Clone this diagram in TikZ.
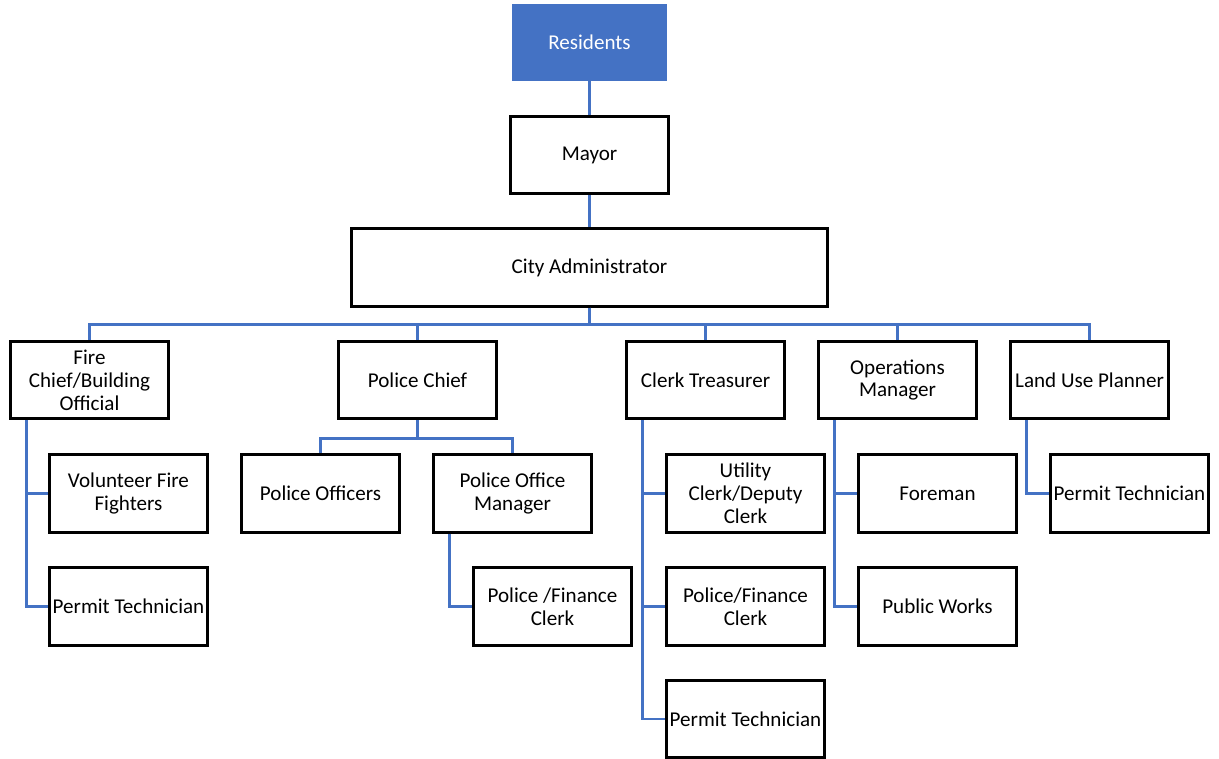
\documentclass[tikz,border=0pt]{standalone}
\usepackage{fontspec}
\setmainfont{Carlito}
\usetikzlibrary{positioning}
\usetikzlibrary{calc}
\definecolor{chartblue}{HTML}{4472C4}
\tikzstyle{post}=[rectangle,draw=black,line width=1.6pt,fill=white,minimum width=3.15cm,minimum height=1.55cm,inner sep=0pt,align=center,font=\fontsize{12}{13}\selectfont]
\tikzstyle{toppost}=[rectangle,fill=chartblue,text=white,minimum width=3.1cm,minimum height=1.54cm,inner sep=0pt,font=\fontsize{12}{13}\selectfont]
\tikzstyle{link} = [draw=chartblue,line width=1.5pt]

\begin{document}
\begin{tikzpicture}[x=0.02cm,y=-0.02cm]
    \useasboundingbox (0,0) rectangle (1219,759);
    % Top of the chart
    \node[toppost] (res) at (589.5,42.5) {Residents};
    \node[post] (mayor) at (589.5,155) {Mayor};
    \node[post, minimum width=9.53cm] (admin) at (589.5,267.5) {City Administrator};

    % Department heads
    \foreach \pos/\name/\label in {{(89.5,380)/fire/{Fire\\Chief/Building\\Official}}, {(417.5,380)/police/{Police Chief}},
        {(705.5,380)/clerk/{Clerk Treasurer}}, {(897.5,380)/ops/{Operations\\Manager}}, {(1089.5,380)/land/{Land Use Planner}}}
        \node[post] (\name) at \pos {\label};

    % Staff under each head
    \foreach \pos/\name/\label in {{(128.5,493.5)/vff/{Volunteer Fire\\Fighters}}, {(128.5,606.5)/fpt/{Permit Technician}},
        {(320.5,493.5)/pofc/{Police Officers}}, {(512.5,493.5)/pom/{Police Office\\Manager}}, {(552.5,606.5)/pfc/{Police /Finance\\Clerk}},
        {(745.5,493.5)/ucl/{Utility\\Clerk/Deputy\\Clerk}}, {(745.5,606.5)/cfc/{Police/Finance\\Clerk}}, {(745.5,719)/cpt/{Permit Technician}},
        {(937.5,493.5)/frm/{Foreman}}, {(937.5,606.5)/pw/{Public Works}}, {(1129.5,493.5)/lpt/{Permit Technician}}}
        \node[post] (\name) at \pos {\label};

    % Connect the boxes
    \path[link] (res.south) -- (mayor.north);
    \path[link] (mayor.south) -- (admin.north);
    \foreach \dest in {fire, police, clerk, ops, land}
        \path[link] (admin.south) -- ++(0,17) -| (\dest.north);
    \foreach \dest in {pofc, pom}
        \path[link] (police.south) -- ++(0,18.5) -| (\dest.north);

    \foreach \source/\dest in {fire/vff, fire/fpt, pom/pfc, clerk/ucl, clerk/cfc, clerk/cpt, ops/frm, ops/pw, land/lpt}
        \path[link] ([xshift=0.34cm]\source.south west) |- (\dest.west);
\end{tikzpicture}
\end{document}
